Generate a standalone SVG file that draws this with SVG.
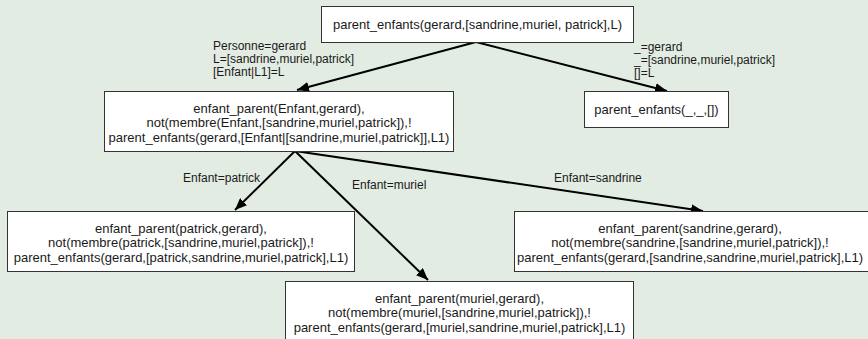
<svg xmlns="http://www.w3.org/2000/svg" width="868" height="339" viewBox="0 0 868 339">
  <style>
    .box { fill: #ffffff; stroke: #333333; stroke-width: 1; }
    .node text { font-family: "Liberation Sans", Arial, sans-serif; font-size: 13px; fill: #1a1a1a; text-anchor: middle; }
    .edge { stroke: #000000; stroke-width: 2; fill: none; marker-end: url(#arrow); }
    .lbl { font-family: "Liberation Sans", Arial, sans-serif; font-size: 12px; fill: #1a1a1a; }
  </style>
  <defs>
    <marker id="arrow" viewBox="0 0 12 10" refX="12" refY="5" markerWidth="12" markerHeight="10" markerUnits="userSpaceOnUse" orient="auto">
      <path d="M0,0 L12,5 L0,10 z" fill="#000000"/>
    </marker>
  </defs>

  <rect x="0" y="0" width="868" height="339" fill="#e3ece3"/>

  <!-- connectors -->
  <g id="connectors">
    <line class="edge" x1="476" y1="42" x2="297" y2="90"/>
    <line class="edge" x1="476" y1="42" x2="667" y2="91"/>
    <line class="edge" x1="295" y1="151" x2="235" y2="210"/>
    <line class="edge" x1="295" y1="151" x2="428" y2="280"/>
    <line class="edge" x1="295" y1="151" x2="703" y2="211"/>

    <text class="lbl" x="213" y="50">Personne=gerard</text>
    <text class="lbl" x="213" y="63">L=[sandrine,muriel,patrick]</text>
    <text class="lbl" x="213" y="76">[Enfant|L1]=L</text>

    <text class="lbl" x="634" y="51">_=gerard</text>
    <text class="lbl" x="634" y="64">_=[sandrine,muriel,patrick]</text>
    <text class="lbl" x="634" y="77">[]=L</text>

    <text class="lbl" x="183" y="182">Enfant=patrick</text>
    <text class="lbl" x="352" y="189">Enfant=muriel</text>
    <text class="lbl" x="554" y="182">Enfant=sandrine</text>
  </g>

  <g id="root" class="node">
    <rect class="box" x="321.5" y="6.5" width="312" height="36"/>
    <text x="477.5" y="28.5">parent_enfants(gerard,[sandrine,muriel, patrick],L)</text>
  </g>

  <g id="empty" class="node">
    <rect class="box" x="584.5" y="91.5" width="144" height="36"/>
    <text x="656.5" y="113.5">parent_enfants(_,_,[])</text>
  </g>

  <g id="step" class="node">
    <rect class="box" x="104.5" y="91.5" width="349" height="60"/>
    <text x="279" y="112.5">enfant_parent(Enfant,gerard),</text>
    <text x="279" y="127">not(membre(Enfant,[sandrine,muriel,patrick]),!</text>
    <text x="279" y="141.5">parent_enfants(gerard,[Enfant|[sandrine,muriel,patrick]],L1)</text>
  </g>

  <g id="patrick" class="node">
    <rect class="box" x="7.5" y="211.5" width="347" height="60"/>
    <text x="181" y="232.5">enfant_parent(patrick,gerard),</text>
    <text x="181" y="247">not(membre(patrick,[sandrine,muriel,patrick]),!</text>
    <text x="181" y="261.5">parent_enfants(gerard,[patrick,sandrine,muriel,patrick],L1)</text>
  </g>

  <g id="sandrine" class="node">
    <rect class="box" x="514.5" y="211.5" width="360" height="60"/>
    <text x="690" y="232.5">enfant_parent(sandrine,gerard),</text>
    <text x="690" y="247">not(membre(sandrine,[sandrine,muriel,patrick]),!</text>
    <text x="690" y="261.5">parent_enfants(gerard,[sandrine,sandrine,muriel,patrick],L1)</text>
  </g>

  <g id="muriel" class="node">
    <rect class="box" x="285.5" y="281.5" width="348" height="62"/>
    <text x="459.5" y="302.5">enfant_parent(muriel,gerard),</text>
    <text x="459.5" y="317">not(membre(muriel,[sandrine,muriel,patrick]),!</text>
    <text x="459.5" y="331.5">parent_enfants(gerard,[muriel,sandrine,muriel,patrick],L1)</text>
  </g>
</svg>
